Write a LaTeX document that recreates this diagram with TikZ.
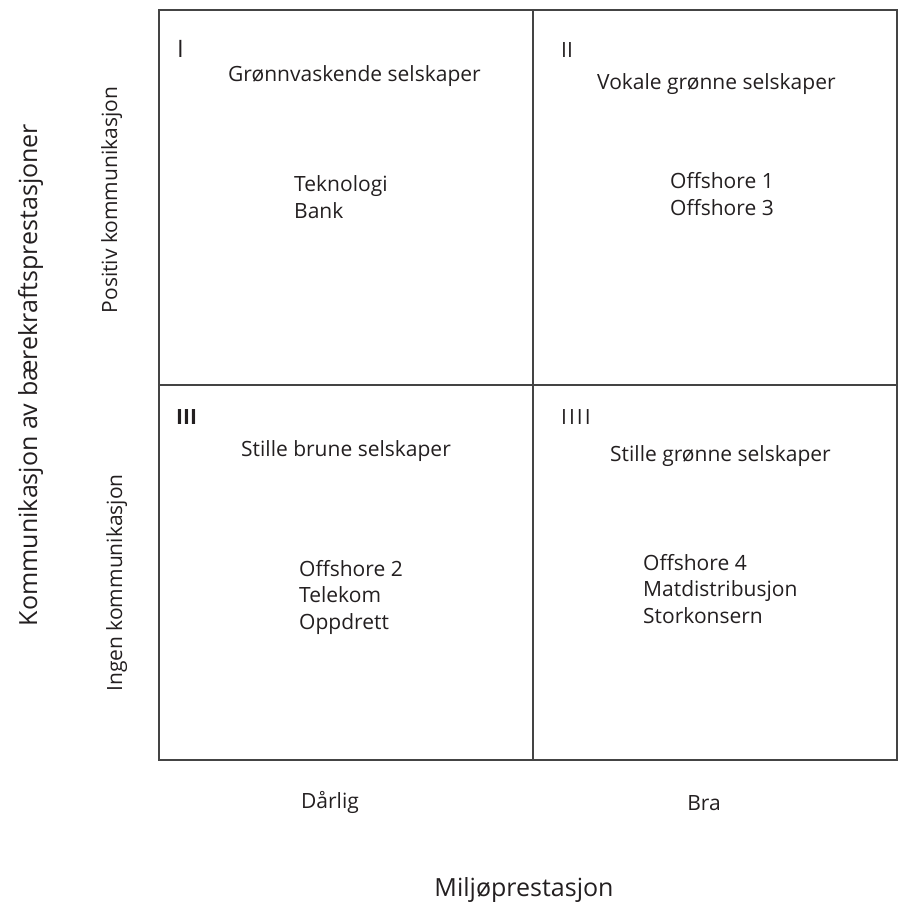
\documentclass[tikz,border=0pt]{standalone}
\usepackage{fontspec}
\setmainfont{Open Sans}
\usetikzlibrary{positioning}
\definecolor{gridline}{RGB}{68,68,68}
\definecolor{labeltext}{RGB}{35,31,32}
\begin{document}
\begin{tikzpicture}[x=1pt, y=-1pt,
    every node/.style={inner sep=0pt, text=labeltext},
    label/.style={font=\fontsize{21}{26}\selectfont, anchor=base west},
    itemlist/.style={font=\fontsize{21}{26.5}\selectfont, anchor=base west, align=left},
    axislabel/.style={font=\fontsize{25}{30}\selectfont, anchor=base}]
    \useasboundingbox (0,0) rectangle (898,904);

    % Quadrant grid
    \coordinate (nw) at (159,10);
    \coordinate (se) at (897,760);
    \coordinate (midtop) at (533,10);
    \coordinate (midbot) at (533,760);
    \coordinate (midleft) at (159,385);
    \coordinate (midright) at (897,385);
    \draw[gridline, line width=1.5pt] (nw) rectangle (se);
    \draw[gridline, line width=1.5pt] (midtop) -- (midbot);
    \draw[gridline, line width=1.5pt] (midleft) -- (midright);

    % Quadrant I (item lists sit on the baseline of their last line)
    \node[label, font=\fontsize{24}{26}\selectfont] (numI) at (177,58) {I};
    \node[label] (titleI) at (228,82) {Grønnvaskende selskaper};
    \node[itemlist] (itemsI) at (294,218) {Teknologi\\Bank};

    % Quadrant II
    \node[label] (numII) at (561,58) {II};
    \node[label] (titleII) at (597,90) {Vokale grønne selskaper};
    \node[itemlist] (itemsII) at (670,215) {Offshore 1\\Offshore 3};

    % Quadrant III
    \node[label, font=\fontsize{21}{26}\bfseries] (numIII) at (176,424) {III};
    \node[label] (titleIII) at (241,456) {Stille brune selskaper};
    \node[itemlist] (itemsIII) at (299,629) {Offshore 2\\Telekom\\Oppdrett};

    % Quadrant IIII
    \node[label] (numIIII) at (561,424) {I\kern2pt I\kern2pt I\kern2pt I};
    \node[label] (titleIIII) at (610,461) {Stille grønne selskaper};
    \node[itemlist] (itemsIIII) at (643,623) {Offshore 4\\Matdistribusjon\\Storkonsern};

    % Axis levels
    \node[label, anchor=base] (bad) at (330,808) {Dårlig};
    \node[label, anchor=base] (good) at (704,810) {Bra};
    \node[label, anchor=base, rotate=90] (positive) at (117,200) {Positiv kommunikasjon};
    \node[label, anchor=base, rotate=90] (none) at (122,583) {Ingen kommunikasjon};

    % Axis titles
    \node[axislabel] (xaxis) at (524,896) {Miljøprestasjon};
    \node[axislabel, rotate=90] (yaxis) at (37,375) {Kommunikasjon av bærekraftsprestasjoner};
\end{tikzpicture}
\end{document}
